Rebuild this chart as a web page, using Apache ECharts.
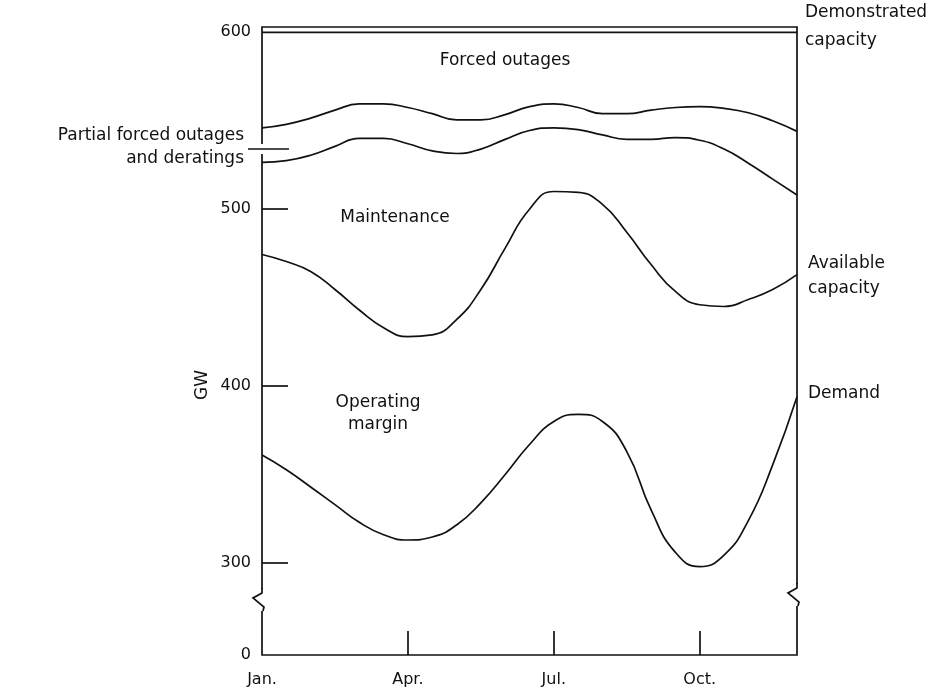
<!DOCTYPE html>
<html>
<head>
<meta charset="utf-8">
<script src="https://cdn.jsdelivr.net/npm/echarts@6.0.0/dist/echarts.min.js"></script>
<style>html,body{margin:0;padding:0;background:#fff;}#c{width:951px;height:695px;}</style>
</head>
<body>
<div id="c"></div>
<script>
// month index: 0 = Jan ... 11 = Dec
const monthTickValues = [0, 3, 6, 9];
const monthTickLabels = ['Jan.', 'Apr.', 'Jul.', 'Oct.'];
const yTickValues = [300, 400, 500, 600];
const yBreakBottom = 248;          // value drawn as "0" below the axis break
const yBottomLabel = '0';

const demonstrated = [[0, 600], [11, 600]];
const forcedTop = [[0, 546], [0.5, 548], [1, 551.5], [1.5, 556], [2, 559.5], [2.5, 559.5], [3, 557.5], [3.5, 554], [4, 550.5], [4.5, 550.5], [5, 553.5], [5.5, 558], [6, 559.5], [6.5, 557.5], [7, 554], [7.5, 554], [8, 556], [8.5, 557.5], [9, 558], [9.5, 557], [10, 554.5], [10.5, 550], [11, 544]];
const partialTop = [[0, 526.5], [0.5, 527.5], [1, 530.5], [1.5, 535.5], [2, 540], [2.5, 540], [3, 537], [3.5, 533], [4, 531.5], [4.5, 534], [5, 539.5], [5.5, 544.5], [6, 546], [6.5, 545], [7, 542], [7.5, 539.5], [8, 539.5], [8.5, 540.5], [9, 539], [9.5, 534], [10, 526], [10.5, 517], [11, 508]];
const available = [[0, 474.4], [0.5, 470.4], [1, 464.8], [1.5, 454.6], [2, 443], [2.5, 433], [3, 428], [3.5, 429], [4, 437.6], [4.5, 454.6], [5, 478], [5.5, 500], [6, 510], [6.5, 509.5], [7, 502.7], [7.5, 487], [8, 468.7], [8.5, 453.5], [9, 446], [9.5, 445], [10, 449], [10.5, 454.6], [11, 463]];
const demand = [[0, 361], [0.5, 352.7], [1, 343], [1.5, 333], [2, 323], [2.5, 316], [3, 313], [3.5, 314.7], [4, 321.5], [4.5, 334], [5, 350], [5.5, 367], [6, 380], [6.5, 384], [7, 380], [7.5, 363], [8, 330], [8.5, 306], [9, 298], [9.5, 304.5], [10, 324], [10.5, 355.5], [11, 394]];

const font = '"DejaVu Sans", Verdana, sans-serif';
const lineSeries = (name, data) => ({
  name, type: 'line', data, smooth: 0.5, showSymbol: false, silent: true,
  lineStyle: { color: '#111', width: 1.7 }
});

const chart = echarts.init(document.getElementById('c'));
chart.setOption({
  backgroundColor: '#fff',
  animation: false,
  grid: { left: 262, right: 154, top: 27, bottom: 40, show: true, borderColor: '#111', borderWidth: 1.7, backgroundColor: 'transparent' },
  xAxis: {
    type: 'value', min: 0, max: 11,
    axisLine: { show: false },
    splitLine: { show: false },
    axisTick: { show: true, inside: true, length: 24, customValues: monthTickValues.slice(1), lineStyle: { color: '#111', width: 1.7 } },
    axisLabel: {
      customValues: monthTickValues, margin: 17, color: '#111', fontSize: 16, fontFamily: font,
      formatter: v => monthTickLabels[monthTickValues.indexOf(v)] || ''
    }
  },
  yAxis: {
    type: 'value', min: yBreakBottom, max: 603,
    axisLine: { show: false },
    splitLine: { show: false },
    axisTick: { show: true, inside: true, length: 26, customValues: yTickValues.slice(0, 3), lineStyle: { color: '#111', width: 1.7 } },
    axisLabel: {
      customValues: [yBreakBottom].concat(yTickValues), margin: 11, color: '#111', fontSize: 16, fontFamily: font,
      formatter: v => v === yBreakBottom ? yBottomLabel : String(v)
    }
  },
  series: [
    lineSeries('Demonstrated capacity', demonstrated),
    lineSeries('Forced outages boundary', forcedTop),
    lineSeries('Partial forced outages and deratings', partialTop),
    lineSeries('Available capacity', available),
    lineSeries('Demand', demand)
  ]
});

// annotations and axis-break marks (layout only)
const zig = (x, y, dir) => ({
  type: 'group', children: [
    { type: 'rect', shape: { x: x - 4, y: y - 10, width: 8, height: 22 }, style: { fill: '#fff' } },
    { type: 'polyline', shape: { points: [[x, y - 11], [x, y - 6], [x - 9 * dir, y - 1], [x + 2 * dir, y + 8], [x + 1 * dir, y + 12]] }, style: { stroke: '#111', lineWidth: 1.7, fill: null } }
  ]
});
const txt = (x, y, text, align, size) => ({ type: 'text', x, y, style: { text, fill: '#111', font: (size || 17) + 'px ' + font, align: align || 'left', verticalAlign: 'middle' } });
chart.setOption({
  graphic: [
    zig(262, 599, 1),
    zig(797, 594, 1),
    { type: 'rect', shape: { x: 258, y: 144, width: 8, height: 10 }, style: { fill: '#fff' } },
    { type: 'line', shape: { x1: 248, y1: 149, x2: 289, y2: 149 }, style: { stroke: '#111', lineWidth: 1.7 } },
    txt(244, 136, 'Partial forced outages', 'right'),
    txt(244, 159, 'and deratings', 'right'),
    txt(505, 61, 'Forced outages', 'center'),
    txt(395, 218, 'Maintenance', 'center'),
    txt(378, 403, 'Operating', 'center'),
    txt(378, 425, 'margin', 'center'),
    txt(805, 13, 'Demonstrated'),
    txt(805, 41, 'capacity'),
    txt(808, 264, 'Available'),
    txt(808, 289, 'capacity'),
    txt(808, 394, 'Demand'),
    { type: 'text', x: 203, y: 385, rotation: Math.PI / 2, style: { text: 'GW', fill: '#111', font: '17px ' + font, align: 'center', verticalAlign: 'middle' } }
  ]
});
</script>
</body>
</html>
